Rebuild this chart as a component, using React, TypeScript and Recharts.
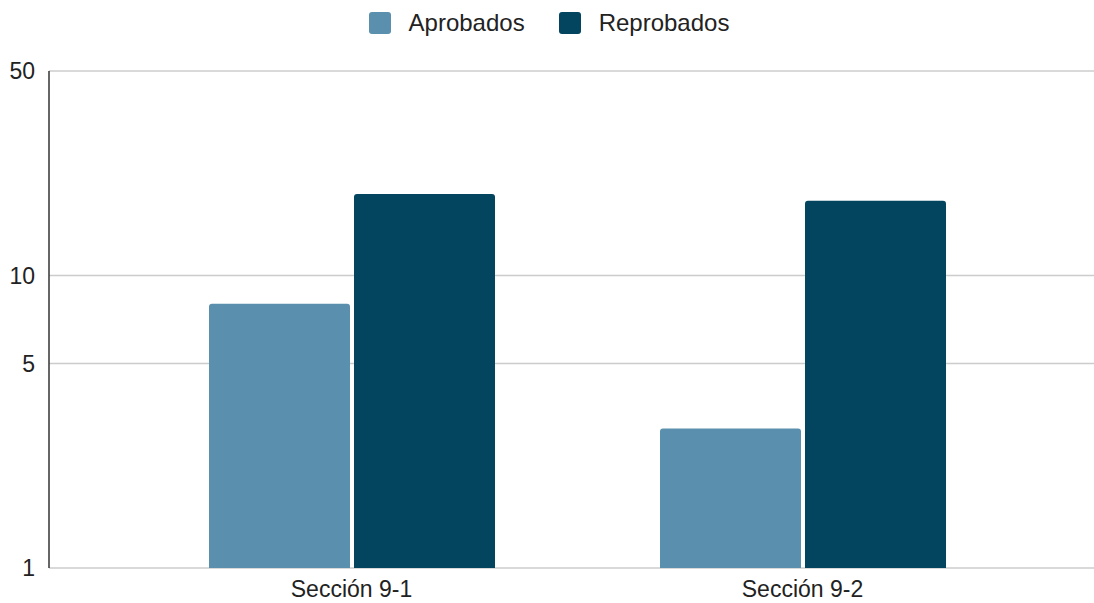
import React from 'react';
import { BarChart, Bar, XAxis, YAxis, CartesianGrid, Legend } from 'recharts';

// Students per section, on a logarithmic scale
const sections = ['Sección 9-1', 'Sección 9-2'];
const aprobados = [8, 3];
const reprobados = [19, 18];
const yTicks = [1, 5, 10, 50];

const seriesNames = ['Aprobados', 'Reprobados'];
const seriesColors = ['#5A8FAE', '#03455F'];

const data = sections.map((name, i) => ({
  name,
  Aprobados: aprobados[i],
  Reprobados: reprobados[i],
}));

const FONT = '"Liberation Sans", Arial, sans-serif';

const LegendContent = () => (
  <div
    style={{
      display: 'flex',
      justifyContent: 'center',
      alignItems: 'center',
      height: 45,
      fontFamily: FONT,
      fontSize: 24,
      color: '#222',
      paddingLeft: 4,
    }}
  >
    {seriesNames.map((s, i) => (
      <div
        key={s}
        style={{ display: 'flex', alignItems: 'center', marginRight: i === 0 ? 34 : 0 }}
      >
        <span
          style={{
            display: 'inline-block',
            width: 22,
            height: 22,
            borderRadius: 3,
            background: seriesColors[i],
            marginRight: 18,
          }}
        />
        <span>{s}</span>
      </div>
    ))}
  </div>
);

export default function App() {
  return (
    <div style={{ position: 'absolute', left: 0, top: 0, fontFamily: FONT }}>
      <BarChart
        width={1094}
        height={603}
        data={data}
        margin={{ top: 26, right: 0, bottom: 0, left: 0 }}
        barGap={4}
        barSize={141}
      >
        <Legend
          verticalAlign="top"
          align="center"
          height={45}
          content={<LegendContent />}
          wrapperStyle={{ top: 0, left: 0, width: 1094 }}
        />
        <CartesianGrid horizontal vertical={false} stroke="#cccccc" strokeWidth={1.5} />
        <XAxis
          dataKey="name"
          height={35}
          axisLine={false}
          tickLine={false}
          tickSize={0}
          tickMargin={13}
          padding={{ left: 77, right: 66 }}
          tick={{ fill: '#222', fontSize: 23, fontFamily: FONT }}
        />
        <YAxis
          scale="log"
          type="number"
          domain={[1, 50]}
          ticks={yTicks}
          allowDataOverflow
          width={49}
          tickLine={false}
          tickSize={0}
          tickMargin={14}
          axisLine={{ stroke: '#333', strokeWidth: 1.5 }}
          tick={{ fill: '#222', fontSize: 23, fontFamily: FONT }}
        />
        <Bar
          dataKey="Aprobados"
          fill={seriesColors[0]}
          radius={[3, 3, 0, 0]}
          isAnimationActive={false}
        />
        <Bar
          dataKey="Reprobados"
          fill={seriesColors[1]}
          radius={[3, 3, 0, 0]}
          isAnimationActive={false}
        />
      </BarChart>
    </div>
  );
}
